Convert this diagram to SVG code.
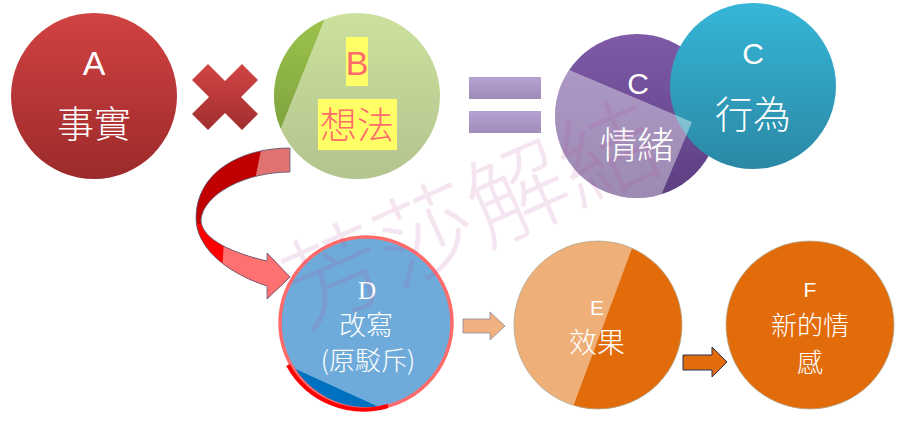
<svg xmlns="http://www.w3.org/2000/svg" width="910" height="431" viewBox="0 0 910 431">
<defs>
<style>
.t{font-family:"Liberation Sans","Noto Sans CJK TC",sans-serif;fill:#fff;text-anchor:middle}
.s{font-family:"Liberation Serif","Noto Sans CJK TC",serif;fill:#fff;text-anchor:middle}
.cjk{font-family:"Noto Sans CJK TC",sans-serif;fill:#fff;text-anchor:middle;font-weight:300}
.wm{font-family:"Noto Sans CJK TC",sans-serif;fill:#b04898;fill-opacity:0.14;text-anchor:middle;font-weight:300}
</style>
<linearGradient id="gA" x1="0" y1="0" x2="0" y2="1"><stop offset="0" stop-color="#d24242"/><stop offset="1" stop-color="#9c2a2a"/></linearGradient>
<linearGradient id="gX" x1="0" y1="0" x2="0" y2="1"><stop offset="0" stop-color="#d24444"/><stop offset="1" stop-color="#a02e2e"/></linearGradient>
<linearGradient id="gB" x1="0" y1="0" x2="0" y2="1"><stop offset="0" stop-color="#cce19d"/><stop offset="1" stop-color="#b3c48e"/></linearGradient>
<linearGradient id="gB2" x1="0" y1="0" x2="0" y2="1"><stop offset="0" stop-color="#a0c84e"/><stop offset="1" stop-color="#7da03e"/></linearGradient>
<linearGradient id="gEq" x1="0" y1="0" x2="0" y2="1"><stop offset="0" stop-color="#b6a2d2"/><stop offset="1" stop-color="#a08cb8"/></linearGradient>
<linearGradient id="gP" x1="0" y1="0" x2="0" y2="1"><stop offset="0" stop-color="#7e5aa8"/><stop offset="1" stop-color="#5c3e80"/></linearGradient>
<linearGradient id="gT" x1="0" y1="0" x2="0" y2="1"><stop offset="0" stop-color="#36b6d8"/><stop offset="1" stop-color="#2a88a4"/></linearGradient>
<clipPath id="cP"><circle cx="637" cy="116" r="82"/></clipPath>
<clipPath id="cB"><circle cx="357" cy="96" r="83"/></clipPath>
<clipPath id="cD"><circle cx="366" cy="323" r="86"/></clipPath>
<clipPath id="cE"><circle cx="598" cy="325" r="84"/></clipPath>
<clipPath id="cArr"><path id="arrP" d="M290,148 C238,148 196,174 196,218 C196,246 224,272 267,286 L267,299 L290,277 L267,253 L267,261 C236,254 201,240 201,220 C203,194 246,172 290,172 Z"/></clipPath>
</defs>

<g id="nodeA">
<circle cx="94" cy="96" r="83" fill="url(#gA)"/>
<text class="t" x="94" y="75" font-size="34">A</text>
<text class="cjk" x="94" y="138" font-size="37">事實</text>
</g>

<g id="times">
<path d="M192,80 L208,64 L225,81 L242,64 L258,80 L241,97 L258,114 L242,130 L225,113 L208,130 L192,114 L209,97 Z" fill="url(#gX)"/>
</g>

<g id="nodeB">
<circle cx="357" cy="96" r="83" fill="url(#gB)"/>
<polygon points="260,0 325,18 281,128 260,140" fill="url(#gB2)" clip-path="url(#cB)"/>
<rect x="346" y="37" width="22" height="49" fill="#ffff66"/>
<rect x="318" y="99" width="79" height="51" fill="#ffff66"/>
<text x="357" y="75" font-size="34" font-family="Liberation Sans, sans-serif" fill="#ff6b6b" text-anchor="middle">B</text>
<text x="357" y="139" font-size="37" font-family="Noto Sans CJK TC, sans-serif" font-weight="300" fill="#ff6b6b" text-anchor="middle">想法</text>
</g>

<g id="equals">
<rect x="469" y="77" width="72" height="22" fill="url(#gEq)"/>
<rect x="469" y="111" width="72" height="22" fill="url(#gEq)"/>
</g>

<g id="nodeC1">
<circle cx="637" cy="116" r="82" fill="url(#gP)"/>
</g>
<g id="nodeC2">
<circle cx="753" cy="86" r="83" fill="url(#gT)"/>
<text class="t" x="753" y="64" font-size="30">C</text>
<text class="cjk" x="753" y="128" font-size="38">行為</text>
</g>
<g id="nodeC1overlay">
<polygon points="540,60 560,66 692,122 657,205 540,205" fill="#ffffff" fill-opacity="0.4" clip-path="url(#cP)"/>
<text class="t" x="638" y="94" font-size="30">C</text>
<text class="cjk" x="637" y="159" font-size="37">情緒</text>
</g>

<g id="connectors">
<g id="curvedArrow">
<g clip-path="url(#cArr)">
<rect x="190" y="140" width="110" height="165" fill="#c00000"/>
<rect x="190" y="224" width="110" height="90" fill="#ff0000"/>
<polygon points="263,140 300,140 300,180 255,180" fill="#e07272"/>
<polygon points="224,240 300,240 300,305 220,305" fill="#ff7070"/>
</g>
<use href="#arrP" fill="none" stroke="#5a607a" stroke-width="0.8"/>
</g>
<path d="M463,319 L490,319 L490,312 L505,326 L490,340 L490,333 L463,333 Z" fill="#f0b080" stroke="#8a8a9a" stroke-width="0.8"/>
<path d="M683,355 L712,355 L712,347 L727,362 L712,377 L712,370 L683,370 Z" fill="#e36c0a" stroke="#243050" stroke-width="1"/>
</g>

<g id="nodeD">
<circle cx="366" cy="323" r="86" fill="#6fabda"/>
<polygon points="280,362 390,412 270,412" fill="#0070c0" clip-path="url(#cD)"/>
<circle cx="366" cy="323" r="86" fill="none" stroke="#ff6b6b" stroke-width="3.5"/>
<path d="M288,365 A86,86 0 0,0 388,406" fill="none" stroke="#ff0000" stroke-width="4"/>
<text class="s" x="367" y="299" font-size="25">D</text>
<text class="cjk" x="366" y="335" font-size="27">改寫</text>
<text class="cjk" x="368" y="370" font-size="26">(原駁斥)</text>
</g>

<g id="nodeE">
<circle cx="598" cy="325" r="84" fill="#eeaf78"/>
<polygon points="637,235 700,235 700,415 570,415" fill="#e36c0a" clip-path="url(#cE)"/>
<circle cx="598" cy="325" r="84" fill="none" stroke="#b0a890" stroke-width="0.8"/>
<text class="t" x="597" y="315" font-size="21">E</text>
<text class="cjk" x="597" y="353" font-size="28">效果</text>
</g>

<g id="nodeF">
<circle cx="810" cy="325" r="84" fill="#e36c0a" stroke="#b0a890" stroke-width="0.8"/>
<text class="t" x="810" y="297" font-size="21">F</text>
<text class="cjk" x="810" y="335" font-size="26">新的情</text>
<text class="cjk" x="810" y="372" font-size="26">感</text>
</g>

<text class="wm" x="472" y="250" font-size="100" transform="rotate(-24 472 215)">芳莎解結</text>
</svg>
